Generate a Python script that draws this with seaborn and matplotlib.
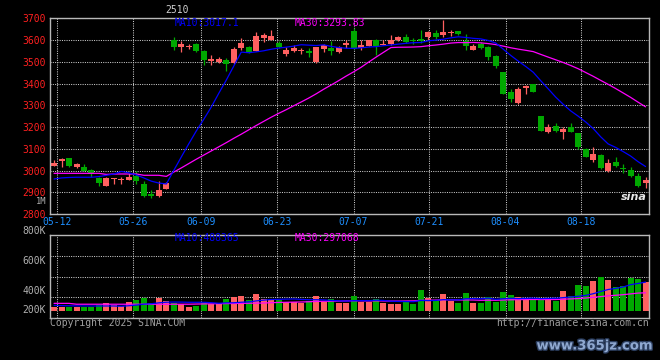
import numpy as np
import pandas as pd
import matplotlib
matplotlib.use('Agg')
import matplotlib.pyplot as plt
import matplotlib.patheffects as pe
import seaborn as sns

# daily candles (index 0 = 05-09 ... 79 = 08-28)
opens = [3022, 3045, 3057, 3018, 3017, 3002, 2967, 2931, 2963, 2958,
         2957, 2975, 2940, 2891, 2885, 2917, 3600, 3570, 3568, 3580,
         3548, 3502, 3500, 3510, 3493, 3562, 3570, 3551, 3609, 3602,
         3585, 3536, 3548, 3551, 3548, 3500, 3557, 3563, 3545, 3576,
         3640, 3563, 3574, 3600, 3578, 3582, 3598, 3614, 3601, 3606,
         3615, 3632, 3624, 3632, 3640, 3597, 3556, 3582, 3566, 3525,
         3452, 3361, 3312, 3380, 3396, 3249, 3176, 3207, 3176, 3200,
         3171, 3098, 3048, 3071, 3000, 3037, 3013, 3002, 2973, 2944]
highs = [3050, 3057, 3058, 3036, 3028, 3005, 2969, 2972, 2966, 2970,
         2990, 2998, 2950, 2912, 2950, 2946, 3614, 3597, 3582, 3588,
         3556, 3533, 3522, 3518, 3566, 3611, 3574, 3638, 3632, 3647,
         3597, 3570, 3579, 3563, 3563, 3570, 3582, 3594, 3571, 3600,
         3655, 3600, 3601, 3606, 3600, 3624, 3618, 3629, 3609, 3647,
         3640, 3647, 3693, 3647, 3643, 3629, 3582, 3591, 3571, 3530,
         3455, 3373, 3383, 3392, 3398, 3250, 3213, 3217, 3202, 3217,
         3173, 3103, 3110, 3075, 3051, 3060, 3031, 3017, 2987, 2968]
lows = [3020, 3017, 3018, 3010, 2997, 2972, 2931, 2927, 2940, 2940,
        2955, 2940, 2876, 2872, 2878, 2916, 3555, 3545, 3557, 3545,
        3484, 3487, 3493, 3457, 3490, 3553, 3539, 3548, 3591, 3600,
        3563, 3525, 3545, 3536, 3521, 3495, 3545, 3530, 3541, 3563,
        3558, 3553, 3571, 3533, 3577, 3579, 3597, 3586, 3583, 3586,
        3601, 3606, 3612, 3617, 3624, 3556, 3553, 3560, 3507, 3472,
        3350, 3316, 3304, 3350, 3360, 3180, 3171, 3179, 3145, 3176,
        3101, 3060, 3040, 3008, 2995, 3014, 2987, 2969, 2926, 2920]
closes = [3036, 3051, 3022, 3031, 2999, 2983, 2942, 2966, 2966, 2961,
          2972, 2952, 2885, 2884, 2912, 2942, 3570, 3582, 3571, 3549,
          3510, 3515, 3515, 3490, 3557, 3585, 3544, 3620, 3621, 3620,
          3566, 3554, 3563, 3554, 3539, 3566, 3576, 3551, 3566, 3588,
          3560, 3579, 3598, 3574, 3580, 3601, 3615, 3589, 3594, 3597,
          3637, 3615, 3637, 3637, 3627, 3571, 3574, 3563, 3521, 3480,
          3354, 3327, 3377, 3390, 3362, 3182, 3200, 3182, 3190, 3179,
          3110, 3063, 3075, 3010, 3033, 3022, 3009, 2976, 2929, 2956]
# volume in thousands
volumes = [71, 82, 71, 71, 71, 71, 111, 140, 111, 94,
           164, 198, 233, 140, 233, 175, 140, 129, 82, 94,
           164, 129, 129, 216, 245, 268, 198, 303, 216, 198,
           198, 164, 164, 140, 187, 268, 164, 210, 152, 152,
           268, 164, 164, 216, 152, 129, 129, 181, 135, 373,
           233, 198, 303, 175, 152, 320, 152, 152, 251, 164,
           338, 280, 245, 210, 198, 233, 198, 175, 355, 274,
           460, 442, 529, 599, 547, 425, 442, 581, 564, 512]

# moving-average values before enough candles are on screen
ma10_head = [2961, 2966, 2968, 2969, 2969, 2969, 2972, 2978, 2984]
ma30_head = [2987, 2987, 2987, 2987, 2987, 2987, 2987, 2982, 2984, 2984,
             2984, 2984, 2978, 2978, 2978, 2973, 2993, 3012, 3032, 3052,
             3071, 3090, 3109, 3128, 3148, 3167, 3187, 3207, 3226]
vma10_head = [105, 100, 98, 96, 95, 94, 94, 94, 94]
vma30_head = [140, 140, 140, 125, 125, 125, 125, 125, 125, 125,
              125, 125, 125, 125, 125, 125, 125, 125, 125, 128,
              130, 132, 134, 136, 138, 140, 142, 144, 146]

date_labels = ['05-12', '05-26', '06-09', '06-23', '07-07', '07-21', '08-04', '08-18']
date_ticks = [0.45, 10.6, 19.6, 29.8, 40.0, 50.1, 60.3, 70.4]
price_ticks = [2800, 2900, 3000, 3100, 3200, 3300, 3400, 3500, 3600, 3700]
vol_labels = ['1M', '800K', '600K', '400K', '200K']
vol_label_y = [201.0, 230.7, 260.7, 290.7, 310.0]
vol_label_size = [6.3, 7, 7, 7, 7]

UP = '#FF6060'
DOWN = '#00A800'
GRID = '#C8C8C8'
FRAME = '#B8B8B8'

df = pd.DataFrame({'open': opens, 'high': highs, 'low': lows, 'close': closes, 'vol': volumes})
df['x'] = np.arange(len(df))
df['ma10'] = df['close'].rolling(10).mean()
df.loc[:8, 'ma10'] = ma10_head
df['ma30'] = df['close'].rolling(30).mean()
df.loc[:28, 'ma30'] = ma30_head
df['vma10'] = df['vol'].rolling(10).mean()
df.loc[:8, 'vma10'] = vma10_head
df['vma30'] = df['vol'].rolling(30).mean()
df.loc[:28, 'vma30'] = vma30_head
df['color'] = np.where(df['close'] >= df['open'], UP, DOWN)

sns.set_theme(style='dark')
plt.rcParams['font.family'] = ['DejaVu Sans Mono', 'DejaVu Sans']
plt.rcParams['axes.facecolor'] = 'black'
plt.rcParams['figure.facecolor'] = 'black'

W, H = 660, 360
fig = plt.figure(figsize=(6.6, 3.6), dpi=100)


def px(x, y):
    return x / W, 1 - y / H


L, R = 50.3, 649.3
ax = fig.add_axes([L / W, (H - 214) / H, (R - L) / W, (214 - 18.3) / H])
axv = fig.add_axes([L / W, (H - 318.3) / H, (R - L) / W, (318.3 - 234.7) / H])

for a in (ax, axv):
    a.set_facecolor('black')
    a.set_xlim(-0.5, len(df) - 0.5)
    for s in a.spines.values():
        s.set_color(FRAME)
        s.set_linewidth(1.0)
    a.set_xticks(date_ticks)
    a.grid(True, color=GRID, linestyle=(0, (1, 1.2)), linewidth=0.75)
    a.tick_params(length=0)

# price panel
ax.vlines(df['x'], df['low'], df['high'], colors=df['color'], linewidth=0.9)
body_lo = np.minimum(df['open'], df['close'])
body_h = np.maximum((df['close'] - df['open']).abs(), 4)
ax.bar(df['x'], body_h, bottom=body_lo, width=0.8, color=df['color'], linewidth=0)
sns.lineplot(data=df, x='x', y='ma30', color='#FF00FF', linewidth=0.9, ax=ax)
sns.lineplot(data=df, x='x', y='ma10', color='#0000FF', linewidth=0.9, ax=ax)
ax.set_ylim(2800, 3700)
ax.set_yticks(price_ticks)
ax.set_yticklabels([str(p) for p in price_ticks], color='#FF2020', fontsize=7)
ax.set_xticklabels(date_labels, color='#1E8FFF', fontsize=7)
ax.tick_params(axis='x', pad=2.5)
ax.tick_params(axis='y', pad=3)
ax.set_xlabel('')
ax.set_ylabel('')

# volume panel
axv.bar(df['x'], df['vol'], width=0.8, color=df['color'], linewidth=0)
sns.lineplot(data=df, x='x', y='vma30', color='#FF00FF', linewidth=0.9, ax=axv)
sns.lineplot(data=df, x='x', y='vma10', color='#0000FF', linewidth=0.9, ax=axv)
vlo, vhi = -120, 1335
axv.set_ylim(vlo, vhi)
axv.set_yticks(np.linspace(vlo, vhi, 5)[1:4])
axv.set_yticklabels([])
axv.set_xticklabels([])
axv.set_xlabel('')
axv.set_ylabel('')

for lab, y, fs in zip(vol_labels, vol_label_y, vol_label_size):
    fig.text(*px(46, y), lab, color='#B0B0B0', fontsize=fs, ha='right', va='center')

# legends and titles
fig.text(*px(165, 10), '2510', color='#D0D0D0', fontsize=7, ha='left', va='center')
fig.text(*px(175, 23.5), 'MA10:3017.1', color='#0000FF', fontsize=7, ha='left', va='center')
fig.text(*px(295, 23.5), 'MA30:3293.83', color='#FF00FF', fontsize=7, ha='left', va='center')
fig.text(*px(175, 238.3), 'MA10:488365', color='#0000FF', fontsize=7, ha='left', va='center')
fig.text(*px(295, 238.3), 'MA30:297068', color='#FF00FF', fontsize=7, ha='left', va='center')

fig.text(*px(50, 323.5), 'Copyright 2025 SINA.COM', color='#A0A0A0', fontsize=7, ha='left', va='center')
fig.text(*px(649, 323.5), 'http://finance.sina.com.cn', color='#A0A0A0', fontsize=7, ha='right', va='center')

fig.text(*px(634, 197), 'sina', color='#E8E8E8', fontsize=8, fontweight='bold', fontstyle='italic',
         family='DejaVu Sans', ha='center', va='center')
wm = fig.text(*px(595, 346), 'www.365jz.com', color='#8FA8D0', fontsize=9.5, fontweight='bold',
              family='DejaVu Sans', ha='center', va='center')
wm.set_path_effects([pe.withStroke(linewidth=2, foreground='#2A3C5C')])

fig.savefig('out.png', dpi=100, facecolor='black')
